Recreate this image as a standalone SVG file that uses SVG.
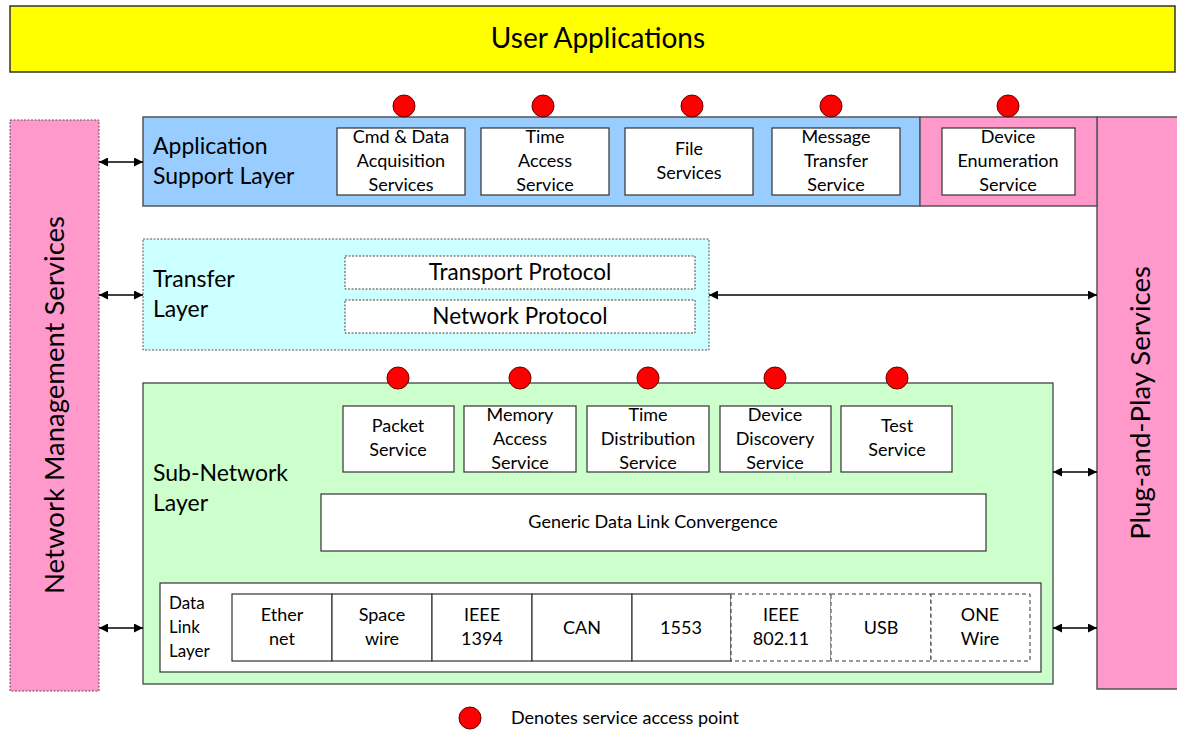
<svg xmlns="http://www.w3.org/2000/svg" width="1177" height="730" viewBox="0 0 1177 730">
<defs>
<marker id="ah" viewBox="0 0 10 10" refX="10" refY="5" markerWidth="11" markerHeight="9" markerUnits="userSpaceOnUse" orient="auto-start-reverse">
<path d="M0,0 L10,5 L0,10 z" fill="#000"/>
</marker>
<style>
text{font-family:Lato,"Liberation Sans",sans-serif;fill:#000}
.t{font-size:18px;text-anchor:middle}
.l{font-size:23px}
.big{font-size:27.5px;text-anchor:middle}
.box{fill:#fff;stroke:#333;stroke-width:1.2}
.dbox{fill:#fff;stroke:#444;stroke-width:1;stroke-dasharray:2 1.5}
.dash{fill:#fff;stroke:#333;stroke-width:1;stroke-dasharray:4 3}
.sap{fill:#f00;stroke:#600;stroke-width:1}
.layer{stroke:#555;stroke-width:1.5}
.conn{stroke:#000;stroke-width:1.3;fill:none;marker-start:url(#ah);marker-end:url(#ah)}
</style>
</defs>

<g id="user-applications">
<rect x="10" y="6" width="1165" height="66" fill="#ffff00" stroke="#333" stroke-width="1.5"/>
<text x="598" y="48" style="font-size:28px;text-anchor:middle">User Applications</text>
</g>

<g id="network-management">
<rect x="10" y="120" width="89" height="571" fill="#ff99cc" stroke="#555" stroke-width="1" stroke-dasharray="2 1.5"/>
<text class="big" transform="translate(64,405) rotate(-90)">Network Management Services</text>
</g>

<g id="plug-and-play">
<rect x="1097" y="117" width="82" height="572" fill="#ff99cc" stroke="#555" stroke-width="1.5"/>
<text class="big" transform="translate(1150,403) rotate(-90)">Plug-and-Play Services</text>
</g>

<g id="application-support-layer">
<rect class="layer" x="143" y="117" width="777" height="89" fill="#99ccff"/>
<rect class="layer" x="920" y="117" width="177" height="89" fill="#ff99cc"/>
<text class="l" x="153" y="154">Application</text>
<text class="l" x="153" y="184">Support Layer</text>
</g>

<g id="cmd-data">
<rect class="box" x="337" y="128" width="128" height="67"/>
<text class="t" x="401" y="143">Cmd &amp; Data</text>
<text class="t" x="401" y="167">Acquisition</text>
<text class="t" x="401" y="191">Services</text>
<circle class="sap" cx="404" cy="106" r="11"/>
</g>
<g id="time-access">
<rect class="box" x="481" y="128" width="128" height="67"/>
<text class="t" x="545" y="143">Time</text>
<text class="t" x="545" y="167">Access</text>
<text class="t" x="545" y="191">Service</text>
<circle class="sap" cx="543" cy="106" r="11"/>
</g>
<g id="file-services">
<rect class="box" x="625" y="128" width="128" height="67"/>
<text class="t" x="689" y="155">File</text>
<text class="t" x="689" y="179">Services</text>
<circle class="sap" cx="692" cy="106" r="11"/>
</g>
<g id="message-transfer">
<rect class="box" x="772" y="128" width="128" height="67"/>
<text class="t" x="836" y="143">Message</text>
<text class="t" x="836" y="167">Transfer</text>
<text class="t" x="836" y="191">Service</text>
<circle class="sap" cx="831" cy="106" r="11"/>
</g>
<g id="device-enumeration">
<rect class="box" x="942" y="128" width="133" height="67"/>
<text class="t" x="1008" y="143">Device</text>
<text class="t" x="1008" y="167">Enumeration</text>
<text class="t" x="1008" y="191">Service</text>
<circle class="sap" cx="1008" cy="106" r="11"/>
</g>

<g id="transfer-layer">
<rect x="143" y="239" width="566" height="111" fill="#ccffff" stroke="#555" stroke-width="1" stroke-dasharray="2 1.5"/>
<text class="l" x="153" y="287">Transfer</text>
<text class="l" x="153" y="317">Layer</text>
</g>
<g id="transport-protocol">
<rect class="dbox" x="345" y="256" width="350" height="33"/>
<text x="520" y="280" style="font-size:22.5px;text-anchor:middle">Transport Protocol</text>
</g>
<g id="network-protocol">
<rect class="dbox" x="345" y="300" width="350" height="33"/>
<text x="520" y="324" style="font-size:22.5px;text-anchor:middle">Network Protocol</text>
</g>

<g id="sub-network-layer">
<rect x="143" y="383" width="910" height="301" fill="#ccffcc" stroke="#444" stroke-width="1.3"/>
<text class="l" x="153" y="481">Sub-Network</text>
<text class="l" x="153" y="511">Layer</text>
</g>
<g id="packet-service">
<rect class="box" x="343" y="406" width="111" height="66"/>
<text class="t" x="398" y="432">Packet</text>
<text class="t" x="398" y="456">Service</text>
<circle class="sap" cx="398" cy="378" r="11"/>
</g>
<g id="memory-access">
<rect class="box" x="464" y="406" width="112" height="66"/>
<text class="t" x="520" y="421">Memory</text>
<text class="t" x="520" y="445">Access</text>
<text class="t" x="520" y="469">Service</text>
<circle class="sap" cx="520" cy="378" r="11"/>
</g>
<g id="time-distribution">
<rect class="box" x="587" y="406" width="122" height="66"/>
<text class="t" x="648" y="421">Time</text>
<text class="t" x="648" y="445">Distribution</text>
<text class="t" x="648" y="469">Service</text>
<circle class="sap" cx="648" cy="378" r="11"/>
</g>
<g id="device-discovery">
<rect class="box" x="720" y="406" width="111" height="66"/>
<text class="t" x="775" y="421">Device</text>
<text class="t" x="775" y="445">Discovery</text>
<text class="t" x="775" y="469">Service</text>
<circle class="sap" cx="775" cy="378" r="11"/>
</g>
<g id="test-service">
<rect class="box" x="841" y="406" width="111" height="66"/>
<text class="t" x="897" y="432">Test</text>
<text class="t" x="897" y="456">Service</text>
<circle class="sap" cx="897" cy="378" r="11"/>
</g>
<g id="generic-dlc">
<rect class="box" x="321" y="494" width="665" height="57"/>
<text class="t" x="653" y="528">Generic Data Link Convergence</text>
</g>

<g id="data-link-layer">
<rect class="box" x="160" y="583" width="881" height="89"/>
<text x="169" y="609" style="font-size:17px">Data</text>
<text x="169" y="633" style="font-size:17px">Link</text>
<text x="169" y="657" style="font-size:17px">Layer</text>
</g>
<g id="ethernet">
<rect class="box" x="232" y="594" width="100" height="67"/>
<text class="t" x="282" y="621">Ether</text>
<text class="t" x="282" y="645">net</text>
</g>
<g id="spacewire">
<rect class="box" x="332" y="594" width="100" height="67"/>
<text class="t" x="382" y="621">Space</text>
<text class="t" x="382" y="645">wire</text>
</g>
<g id="ieee1394">
<rect class="box" x="432" y="594" width="100" height="67"/>
<text class="t" x="482" y="621">IEEE</text>
<text class="t" x="482" y="645">1394</text>
</g>
<g id="can">
<rect class="box" x="532" y="594" width="100" height="67"/>
<text class="t" x="582" y="634">CAN</text>
</g>
<g id="mil1553">
<rect class="box" x="632" y="594" width="99" height="67"/>
<text class="t" x="681" y="634">1553</text>
</g>
<g id="ieee80211">
<rect class="dash" x="731" y="594" width="100" height="67"/>
<text class="t" x="781" y="621">IEEE</text>
<text class="t" x="781" y="645">802.11</text>
</g>
<g id="usb">
<rect class="dash" x="831" y="594" width="100" height="67"/>
<text class="t" x="881" y="634">USB</text>
</g>
<g id="onewire">
<rect class="dash" x="931" y="594" width="99" height="67"/>
<text class="t" x="980" y="621">ONE</text>
<text class="t" x="980" y="645">Wire</text>
</g>

<g id="legend">
<circle class="sap" cx="470" cy="718" r="11"/>
<text x="511" y="724" style="font-size:18px">Denotes service access point</text>
</g>

<g id="connectors">
<line class="conn" x1="99" y1="162" x2="143" y2="162"/>
<line class="conn" x1="99" y1="295" x2="143" y2="295"/>
<line class="conn" x1="99" y1="628" x2="143" y2="628"/>
<line class="conn" x1="709" y1="295" x2="1097" y2="295"/>
<line class="conn" x1="1053" y1="472" x2="1097" y2="472"/>
<line class="conn" x1="1053" y1="628" x2="1097" y2="628"/>
</g>
</svg>
